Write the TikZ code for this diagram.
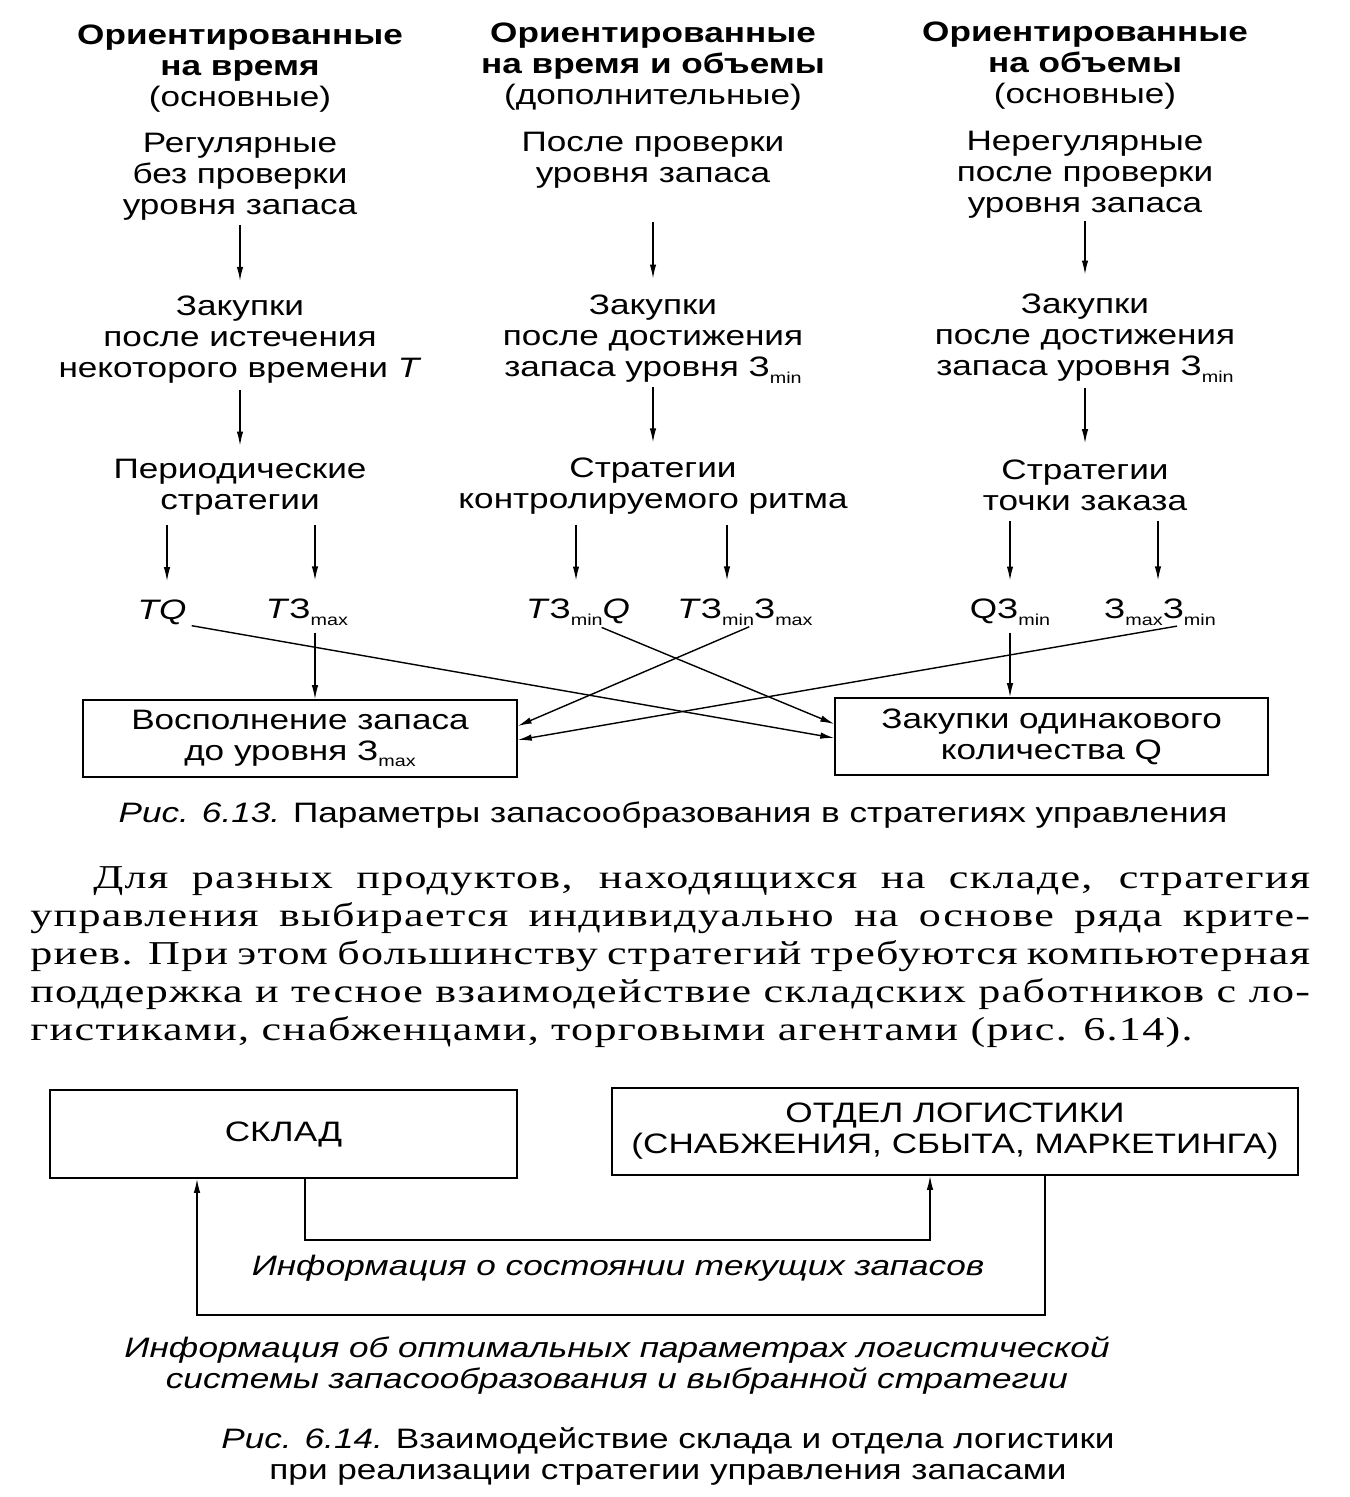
\documentclass[tikz,border=0pt]{standalone}
\usepackage{fontspec}
\setmainfont[FakeStretch=1.25]{Liberation Sans}
\newfontfamily\bookfont[FakeStretch=1.32,LetterSpace=4]{Liberation Serif}
\usetikzlibrary{arrows.meta}
\newcommand{\zsub}[1]{\raisebox{-0.45ex}{\fontsize{9}{9}\selectfont #1}}
\tikzset{
  txt/.style={align=center, inner sep=0pt, font=\fontsize{16}{17.64}\selectfont},
  lbl/.style={inner sep=0pt, font=\fontsize{16}{17.64}\selectfont},
  frame/.style={draw, line width=0.9pt, inner sep=0pt, align=center,
    font=\fontsize{16}{17.64}\selectfont},
  arr/.style={-{Latex[length=0.28cm,width=0.13cm]}, line width=0.8pt},
  ln/.style={line width=0.8pt}
}

\begin{document}
\begin{tikzpicture}[x=0.02cm,y=-0.02cm]
        \useasboundingbox (0,0) rectangle (1349,1497);

        % Headings of the three groups
        \node[txt] (h1) at (240,69) {\textbf{Ориентированные}\\\textbf{на время}\\(основные)};
        \node[txt] (h2) at (653,67) {\textbf{Ориентированные}\\\textbf{на время и объемы}\\(дополнительные)};
        \node[txt] (h3) at (1085,66) {\textbf{Ориентированные}\\\textbf{на объемы}\\(основные)};

        % How the stock is checked
        \node[txt] (a1) at (240,177) {Регулярные\\без проверки\\уровня запаса};
        \node[txt] (a2) at (653,160) {После проверки\\уровня запаса};
        \node[txt] (a3) at (1085,175) {Нерегулярные\\после проверки\\уровня запаса};

        % When the purchase is made
        \node[txt] (b1) at (240,340) {Закупки\\после истечения\\некоторого времени \textit{T}};
        \node[txt] (b2) at (653,339) {Закупки\\после достижения\\запаса уровня З\zsub{min}};
        \node[txt] (b3) at (1085,338) {Закупки\\после достижения\\запаса уровня З\zsub{min}};

        % Strategy groups
        \node[txt] (c1) at (240,487) {Периодические\\стратегии};
        \node[txt] (c2) at (653,486) {Стратегии\\контролируемого ритма};
        \node[txt] (c3) at (1085,485) {Стратегии\\точки заказа};

        % Parameters of each strategy
        \node[lbl] (tq) at (162,612) {\textit{TQ}};
        \node[lbl] (tzmax) at (307,612) {\textit{T}З\zsub{max}};
        \node[lbl] (tzq) at (578,612) {\textit{T}З\zsub{min}\textit{Q}};
        \node[lbl] (tzz) at (745,612) {\textit{T}З\zsub{min}З\zsub{max}};
        \node[lbl] (qz) at (1010,612) {QЗ\zsub{min}};
        \node[lbl] (zz) at (1160,612) {З\zsub{max}З\zsub{min}};

        % Result boxes
        \node[frame, minimum width=8.68cm, minimum height=1.54cm] (refill) at (300,738.5)
          {Восполнение запаса\\до уровня З\zsub{max}};
        \node[frame, minimum width=8.66cm, minimum height=1.54cm] (fixq) at (1051.5,736.5)
          {Закупки одинакового\\количества Q};

        % vertical arrows down the columns
        \draw[arr, shorten <=0.08cm, shorten >=0.3cm] (a1) -- (b1);
        \draw[arr, shorten <=0.68cm, shorten >=0.32cm] (a2) -- (b2);
        \draw[arr, shorten <=0.04cm, shorten >=0.38cm] (a3) -- (b3);
        \draw[arr, shorten <=0.12cm, shorten >=0.26cm] (b1) -- (c1);
        \draw[arr, shorten <=0.08cm, shorten >=0.3cm] (b2) -- (c2);
        \draw[arr, shorten <=0.12cm, shorten >=0.32cm] (b3) -- (c3);

        % from strategies to parameters
        \draw[arr, shorten <=0.2cm, shorten >=0.36cm] ([xshift=0.1cm]c1.south -| tq) -- ([xshift=0.1cm]tq.north);
        \draw[arr, shorten <=0.2cm, shorten >=0.36cm] ([xshift=0.16cm]c1.south -| tzmax) -- ([xshift=0.16cm]tzmax.north);
        \draw[arr, shorten <=0.2cm, shorten >=0.36cm] ([xshift=-0.04cm]c2.south -| tzq) -- ([xshift=-0.04cm]tzq.north);
        \draw[arr, shorten <=0.2cm, shorten >=0.36cm] ([xshift=-0.36cm]c2.south -| tzz) -- ([xshift=-0.36cm]tzz.north);
        \draw[arr, shorten <=0.2cm, shorten >=0.36cm] (c3.south -| qz) -- (qz.north);
        \draw[arr, shorten <=0.2cm, shorten >=0.36cm] ([xshift=-0.04cm]c3.south -| zz) -- ([xshift=-0.04cm]zz.north);

        % from parameters to result boxes
        \draw[arr, shorten <=0.14cm] ([xshift=0.16cm]tzmax.south) -- ([xshift=0.16cm]tzmax.south |- refill.north);
        \draw[arr, shorten <=0.14cm] (qz.south) -- (qz.south |- fixq.north);
        \draw[arr, shorten <=0.1cm] (tq.south east) -- ([yshift=-0.03cm]fixq.west);
        \draw[arr, shorten <=0.1cm] ([xshift=0.38cm]tzq.south) -- ([yshift=0.25cm]fixq.west);
        \draw[arr, shorten <=0.06cm] ([xshift=0.14cm]tzz.south) -- ([yshift=0.25cm]refill.east);
        \draw[arr, shorten <=0.06cm] ([xshift=0.4cm]zz.south) -- ([yshift=-0.03cm]refill.east);

        % caption 6.13
        \node[lbl] (cap1) at (673,815) {\textit{Рис. 6.13.} Параметры запасообразования в стратегиях управления};

        % text of the page
        \node[anchor=base west, inner sep=0pt, align=left,
          font=\bookfont\fontsize{19}{21.6}\selectfont] (body) at (30,1040)
          {\hspace*{1.26cm}\makebox[24.34cm][s]{Для разных продуктов, находящихся на складе, стратегия}\\
           \makebox[25.6cm][s]{управления выбирается индивидуально на основе ряда крите-}\\
           \makebox[25.6cm][s]{риев. При этом большинству стратегий требуются компьютерная}\\
           \makebox[25.6cm][s]{поддержка и тесное взаимодействие складских работников с ло-}\\
           гистиками, снабженцами, торговыми агентами (рис. 6.14).};

        % warehouse and logistics department
        \node[frame, minimum width=9.34cm, minimum height=1.76cm] (sklad) at (283.5,1134) {СКЛАД};
        \node[frame, minimum width=13.72cm, minimum height=1.74cm] (otdel) at (955,1131.5)
          {ОТДЕЛ ЛОГИСТИКИ\\(СНАБЖЕНИЯ, СБЫТА, МАРКЕТИНГА)};

        % information flows
        \coordinate (up1) at (305,1240);
        \coordinate (up2) at (930,1240);
        \draw[arr] (up1 |- sklad.south) -- (up1) -- (up2) -- (up2 |- otdel.south);
        \coordinate (dn1) at (1045,1315);
        \coordinate (dn2) at (197,1315);
        \draw[arr] (dn1 |- otdel.south) -- (dn1) -- (dn2) -- (dn2 |- sklad.south);

        \node[lbl, font=\fontsize{16}{17.64}\selectfont\itshape] (info1) at (618,1268)
          {Информация о состоянии текущих запасов};
        \node[txt, font=\fontsize{16}{17.64}\selectfont\itshape] (info2) at (617,1366)
          {Информация об оптимальных параметрах логистической\\системы запасообразования и выбранной стратегии};

        % caption 6.14
        \node[txt] (cap2) at (668,1456) {\textit{Рис. 6.14.} Взаимодействие склада и отдела логистики\\при реализации стратегии управления запасами};
\end{tikzpicture}
\end{document}
